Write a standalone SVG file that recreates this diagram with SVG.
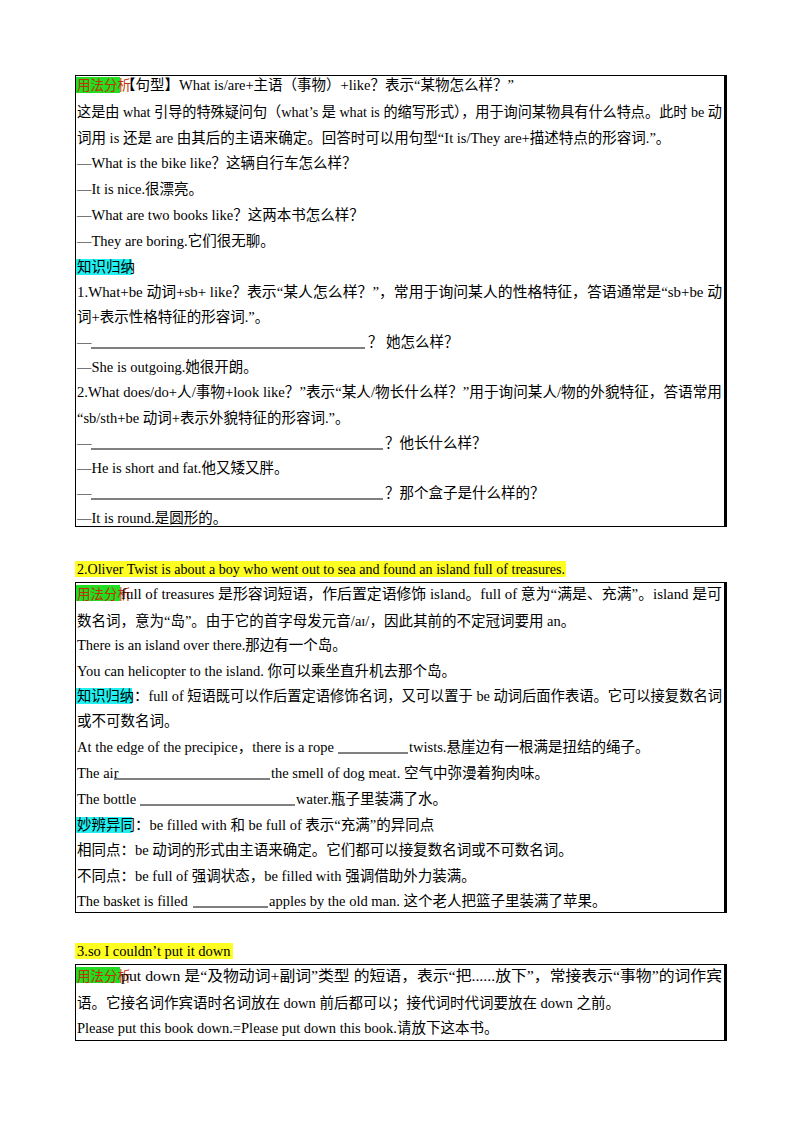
<svg xmlns="http://www.w3.org/2000/svg" width="800" height="1132" viewBox="0 0 800 1132">
<style>
text{font-family:"Liberation Serif","Noto Sans CJK SC",serif;font-size:14.5px;fill:#000}
.box{fill:none;stroke:#000;stroke-width:1}
.g{fill:#22dd22}.c{fill:#22f0f0}.y{fill:#ffff22}
text.r{fill:#c03000;font-size:13.5px}
.u{stroke:#000;stroke-width:1}
</style>
<rect width="800" height="1132" fill="#fff"/>
<g id="box1">
<rect class="box" x="75.5" y="75.5" width="651" height="451"/>
<line x1="725" y1="76" x2="725" y2="526" stroke="#000" stroke-width="2"/>
<rect class="g" x="76" y="77" width="44" height="16"/>
<text class="r" x="77" y="90">用法分析</text>
<text x="121" y="90">【句型】What is/are+主语（事物）+like？表示“某物怎么样？”</text>
<text x="77" y="117" textLength="645" lengthAdjust="spacingAndGlyphs">这是由 what 引导的特殊疑问句（what’s 是 what is 的缩写形式），用于询问某物具有什么特点。此时 be 动</text>
<text x="77" y="143">词用 is 还是 are 由其后的主语来确定。回答时可以用句型“It is/They are+描述特点的形容词.”。</text>
<text x="77" y="168">—What is the bike like？这辆自行车怎么样？</text>
<text x="77" y="194">—It is nice.很漂亮。</text>
<text x="77" y="220">—What are two books like？这两本书怎么样？</text>
<text x="77" y="246">—They are boring.它们很无聊。</text>
<rect class="c" x="76" y="259" width="56" height="16"/>
<text x="77" y="272">知识归纳</text>
<text x="77" y="297" textLength="645" lengthAdjust="spacingAndGlyphs">1.What+be 动词+sb+ like？表示“某人怎么样？”，常用于询问某人的性格特征，答语通常是“sb+be 动</text>
<text x="77" y="322">词+表示性格特征的形容词.”。</text>
<text x="77" y="347">—</text><line class="u" x1="91" y1="348" x2="365" y2="348"/>
<text x="368" y="347">？  她怎么样？</text>
<text x="77" y="372">—She is outgoing.她很开朗。</text>
<text x="77" y="397" textLength="645" lengthAdjust="spacingAndGlyphs">2.What does/do+人/事物+look like？”表示“某人/物长什么样？”用于询问某人/物的外貌特征，答语常用</text>
<text x="77" y="423">“sb/sth+be 动词+表示外貌特征的形容词.”。</text>
<text x="77" y="448">—</text><line class="u" x1="91" y1="449" x2="383" y2="449"/>
<text x="385" y="448">？他长什么样？</text>
<text x="77" y="473">—He is short and fat.他又矮又胖。</text>
<text x="77" y="498">—</text><line class="u" x1="91" y1="499" x2="383" y2="499"/>
<text x="385" y="498">？那个盒子是什么样的？</text>
<text x="77" y="523">—It is round.是圆形的。</text>
</g>
<g id="heading2">
<rect class="y" x="75" y="561" width="491" height="16"/>
<text x="77" y="574" textLength="488" lengthAdjust="spacingAndGlyphs">2.Oliver Twist is about a boy who went out to sea and found an island full of treasures.</text>
</g>
<g id="box2">
<rect class="box" x="75.5" y="582.5" width="651" height="330"/>
<line x1="725" y1="583" x2="725" y2="912" stroke="#000" stroke-width="2"/>
<rect class="g" x="76" y="585" width="44" height="16"/>
<text class="r" x="77" y="599">用法分析</text>
<text x="121" y="599" textLength="601" lengthAdjust="spacingAndGlyphs">full of treasures 是形容词短语，作后置定语修饰 island。full of 意为“满是、充满”。island 是可</text>
<text x="77" y="626">数名词，意为“岛”。由于它的首字母发元音/aɪ/，因此其前的不定冠词要用 an。</text>
<text x="77" y="650">There is an island over there.那边有一个岛。</text>
<text x="77" y="676">You can helicopter to the island.  你可以乘坐直升机去那个岛。</text>
<rect class="c" x="76" y="688" width="56" height="16"/>
<text x="77" y="701" textLength="645" lengthAdjust="spacingAndGlyphs">知识归纳：full of 短语既可以作后置定语修饰名词，又可以置于 be 动词后面作表语。它可以接复数名词</text>
<text x="77" y="726">或不可数名词。</text>
<text x="77" y="752">At the edge of the precipice，there is a rope</text>
<line class="u" x1="338" y1="753" x2="408" y2="753"/>
<text x="409" y="752">twists.悬崖边有一根满是扭结的绳子。</text>
<text x="77" y="778">The air</text><line class="u" x1="114" y1="779" x2="270" y2="779"/>
<text x="271" y="778">the smell of dog meat.  空气中弥漫着狗肉味。</text>
<text x="77" y="804">The bottle</text><line class="u" x1="140" y1="805" x2="295" y2="805"/>
<text x="296" y="804">water.瓶子里装满了水。</text>
<rect class="c" x="76" y="817" width="56" height="16"/>
<text x="77" y="830">妙辨异同：be filled with 和 be full of 表示“充满”的异同点</text>
<text x="77" y="855">相同点：be 动词的形式由主语来确定。它们都可以接复数名词或不可数名词。</text>
<text x="77" y="881">不同点：be full of 强调状态，be filled with 强调借助外力装满。</text>
<text x="77" y="906">The basket is filled</text><line class="u" x1="193" y1="907" x2="268" y2="907"/>
<text x="269" y="906">apples by the old man.  这个老人把篮子里装满了苹果。</text>
</g>
<g id="heading3">
<rect class="y" x="75" y="943" width="158" height="16"/>
<text x="77" y="956">3.so I couldn’t put it down</text>
</g>
<g id="box3">
<rect class="box" x="75.5" y="964.5" width="651" height="76"/>
<line x1="725" y1="965" x2="725" y2="1040" stroke="#000" stroke-width="2"/>
<rect class="g" x="76" y="967" width="44" height="16"/>
<text class="r" x="77" y="981">用法分析</text>
<text x="121" y="981" textLength="601" lengthAdjust="spacingAndGlyphs">put down 是“及物动词+副词”类型  的短语，表示“把......放下”，常接表示“事物”的词作宾</text>
<text x="77" y="1008">语。它接名词作宾语时名词放在 down 前后都可以；接代词时代词要放在 down 之前。</text>
<text x="77" y="1033">Please put this book down.=Please put down this book.请放下这本书。</text>
</g>
</svg>
